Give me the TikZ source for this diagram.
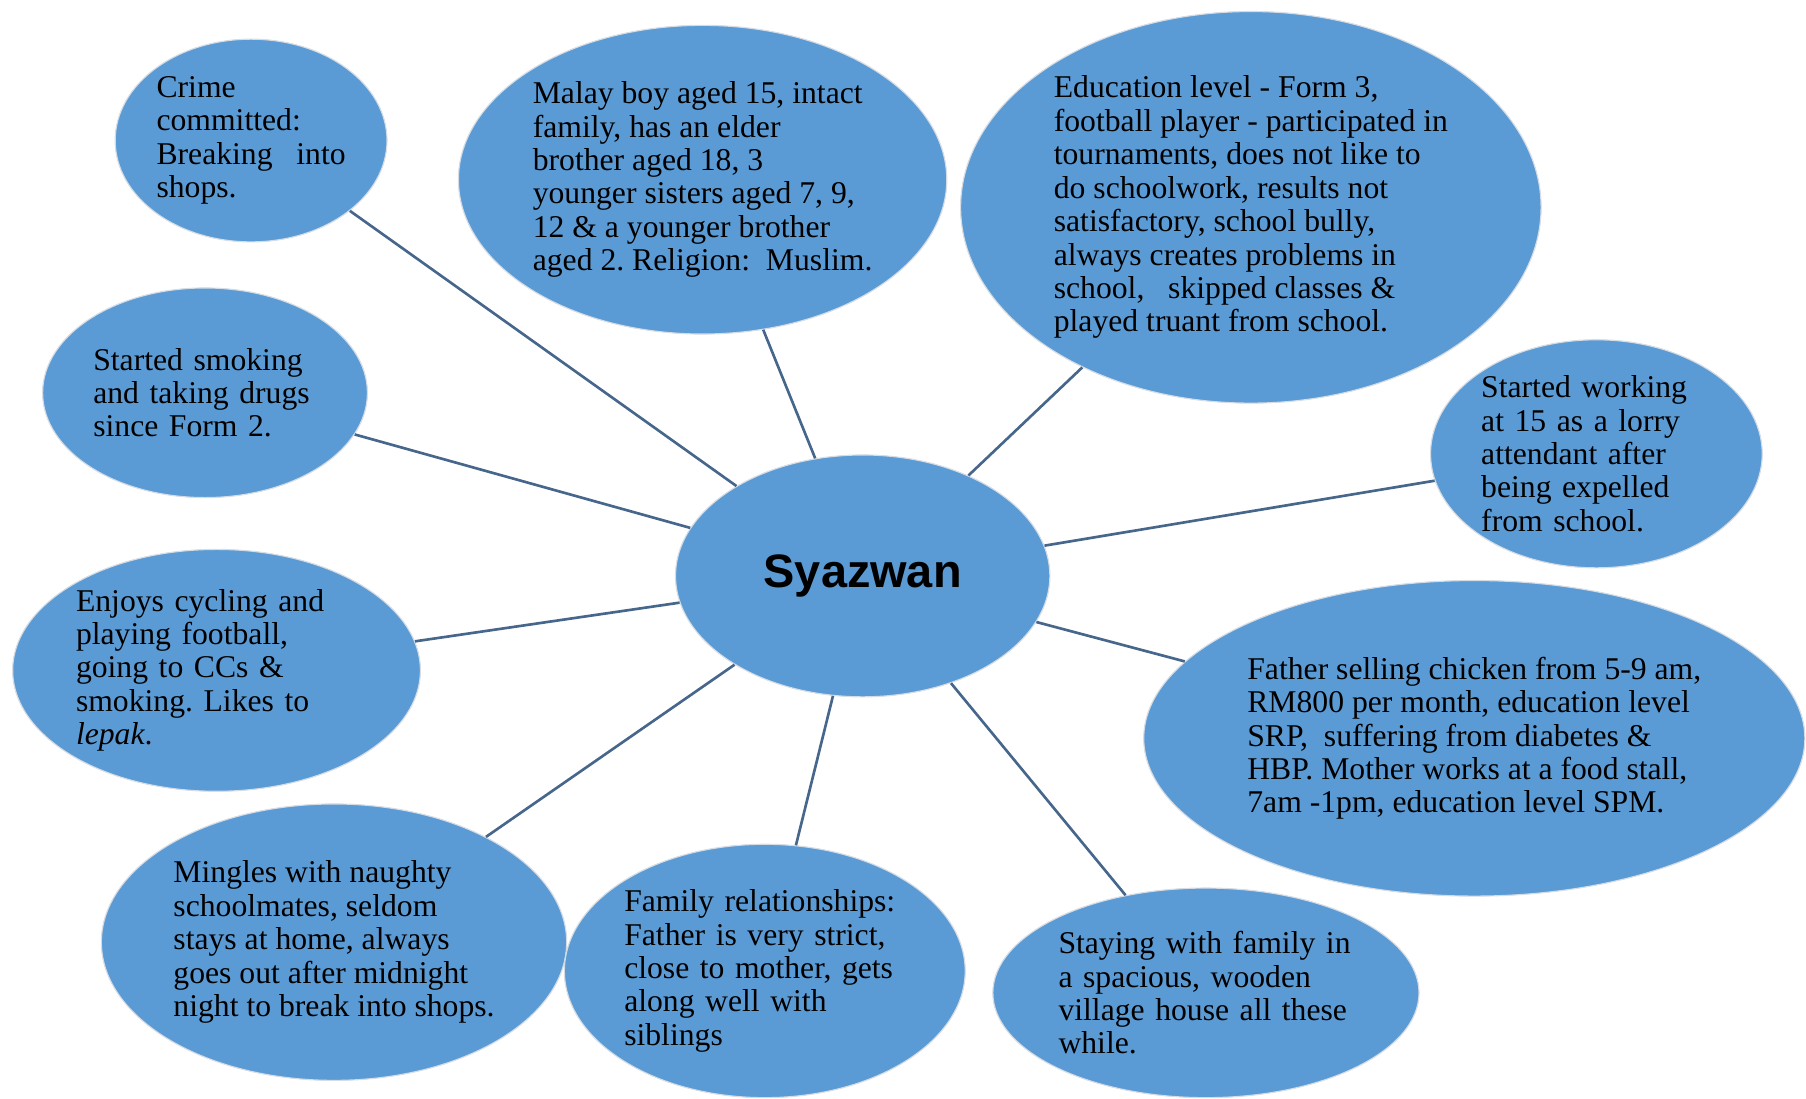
\documentclass[tikz,border=0pt]{standalone}
\usepackage{fontspec}
\setmainfont{Liberation Serif}
\newfontfamily\hubfont{Liberation Sans}
\usepackage{tikz}
\usetikzlibrary{shapes.geometric}

\definecolor{bubblefill}{HTML}{5B9BD5}
\definecolor{bubbleline}{HTML}{D6DCE4}
\definecolor{linkblue}{HTML}{46668C}

\begin{document}
\frenchspacing
\begin{tikzpicture}[x=1pt,y=-1pt,semithick,
      bubble/.style={ellipse,fill=bubblefill,draw=bubbleline,line width=1pt,
        inner xsep=0pt,inner ysep=-10pt,align=left,
        font=\fontsize{27.5}{29}\selectfont},
      link/.style={draw=linkblue,line width=2.3pt}]
			\useasboundingbox (0,0) rectangle (1568,954);
			\node[bubble,minimum width=325pt,minimum height=210pt,align=center,
				font=\hubfont\bfseries\fontsize{40.7}{44}\selectfont] (hub) at (749,500) {Syazwan};
			\node[bubble,minimum width=236pt,minimum height=176pt] (crime) at (218,122)
				{Crime\\committed:\\Breaking\ \ \ into\\shops.};
			\node[bubble,minimum width=424pt,minimum height=268pt] (malay) at (610,156)
				{Malay boy aged 15, intact\\family, has an elder\\brother aged 18, 3\\younger sisters aged 7, 9,\\12 \& a younger brother\\aged 2. Religion:\ \ Muslim.};
			\node[bubble,minimum width=504pt,minimum height=340pt] (edu) at (1086,180)
				{Education level - Form 3,\\football player - participated in\\tournaments, does not like\ to\\do schoolwork, results not\\satisfactory, school bully,\\always creates problems in\\school,\ \ \ skipped classes \&\\played truant from school.};
			\node[bubble,text width=194pt,minimum width=282pt,minimum height=182pt] (smoke) at (178,341)
				{Started smoking\\and taking drugs\\since Form 2.};
			\node[bubble,text width=200pt,minimum width=288pt,minimum height=198pt] (work) at (1386,394)
				{Started working\\at 15\ as a lorry\\attendant after\\being expelled\\from school.};
			\node[bubble,text width=244pt,minimum width=354pt,minimum height=210pt] (enjoy) at (188,582)
				{Enjoys cycling and\\playing football,\\going to CCs \&\\smoking. Likes to\\\textit{lepak}.};
			\node[bubble,minimum width=574pt,minimum height=274pt] (father) at (1280,641)
				{Father selling\ chicken from 5-9 am,\\RM800\ per month, education level\\SRP,\ \ suffering\ from diabetes \&\\HBP. Mother works at a food stall,\\7am -1pm, education level\ SPM.};
			\node[bubble,minimum width=404pt,minimum height=240pt] (mingle) at (290,818)
				{Mingles\ with naughty\\schoolmates, seldom\\stays at home, always\\goes out after midnight\\night to break into shops.};
			\node[bubble,text width=244pt,minimum width=348pt,minimum height=220pt] (family) at (664,843)
				{Family relationships:\\Father is very strict,\\close to mother, gets\\along well with\\siblings};
			\node[bubble,text width=256pt,minimum width=370pt,minimum height=182pt] (stay) at (1047,862)
				{Staying with family\ in\\a spacious, wooden\\village\ house all these\\while.};
			\path[link]
				(hub) edge (crime)
				(hub) edge (malay)
				(hub) edge (edu)
				(hub) edge (smoke)
				(hub) edge (work)
				(hub) edge (enjoy)
				(hub) edge (father)
				(hub) edge (mingle)
				(hub) edge (family)
				(hub) edge (stay);
		\end{tikzpicture}
\end{document}
